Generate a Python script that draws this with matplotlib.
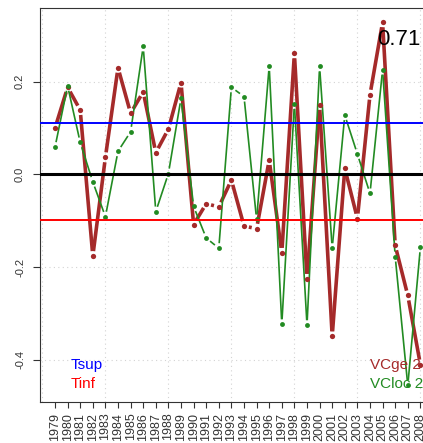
import numpy as np
import matplotlib
matplotlib.use("Agg")
import matplotlib.pyplot as plt

plt.rcParams['font.family'] = ['Liberation Sans', 'DejaVu Sans']

years = list(range(1979, 2009))
vcge = [0.100, 0.188, 0.139, -0.176, 0.037, 0.230, 0.132, 0.178, 0.047, 0.098,
        0.198, -0.108, -0.063, -0.070, -0.012, -0.111, -0.117, 0.031, -0.169, 0.261,
        -0.225, 0.150, -0.349, 0.013, -0.095, 0.172, 0.328, -0.153, -0.261, -0.410]
vcloc = [0.059, 0.191, 0.069, -0.016, -0.091, 0.050, 0.092, 0.276, -0.080, 0.002,
         0.164, -0.069, -0.137, -0.159, 0.188, 0.168, -0.097, 0.234, -0.323, 0.152,
         -0.325, 0.233, -0.159, 0.128, 0.044, -0.041, 0.226, -0.177, -0.455, -0.157]
tsup = 0.111
tinf = -0.098
corr_label = "0.71"

BROWN = "#A52A2A"
GREEN = "#228B22"

fig = plt.figure(figsize=(4.23, 4.43), dpi=100)
ax = fig.add_axes([40.4 / 423, 41.3 / 443, 394.6 / 423, 394.2 / 443])
ax.set_xlim(-0.16, 31.16)
ax.set_ylim(-0.49, 0.36)

idx = np.arange(1, len(years) + 1)


# R-style type="b": points plus line segments that stop short of each point
def b_line(x, y, color, lw, ms, gap=5.0):
    tr = ax.transData
    pts = tr.transform(np.column_stack([x, y]))
    inv = tr.inverted()
    for p0, p1 in zip(pts[:-1], pts[1:]):
        d = p1 - p0
        L = np.hypot(d[0], d[1])
        if L <= 2 * gap:
            continue
        u = d / L
        seg = inv.transform(np.array([p0 + u * gap, p1 - u * gap]))
        ax.plot(seg[:, 0], seg[:, 1], color=color, lw=lw, solid_capstyle='butt',
                zorder=2)
    ax.plot(x, y, 'o', color=color, ms=ms, mec='none', zorder=2.5)


# grid
for gx in range(0, 31, 5):
    ax.axvline(gx, color='lightgray', lw=0.8, ls=(0, (1, 3)), zorder=0.5)
for gy in [-0.4, -0.2, 0.0, 0.2]:
    ax.axhline(gy, color='lightgray', lw=0.8, ls=(0, (1, 3)), zorder=0.5)

b_line(idx, vcge, BROWN, 2.6, 3.8)
b_line(idx, vcloc, GREEN, 1.2, 3.5)

ax.axhline(0, color='black', lw=2.2, zorder=3)
ax.axhline(tsup, color='blue', lw=1.4, zorder=3)
ax.axhline(tinf, color='red', lw=1.4, zorder=3)

ax.text(28.3, 0.29, corr_label, fontsize=16, ha='center', va='center', color='black')

ax.text(2.2, -0.42, "Tsup", color='blue', fontsize=11, va='baseline')
ax.text(2.2, -0.461, "Tinf", color='red', fontsize=11, va='baseline')
ax.text(26.0, -0.42, "VCge 2", color=BROWN, fontsize=11, va='baseline')
ax.text(26.0, -0.461, "VCloc 2", color=GREEN, fontsize=11, va='baseline')

ax.set_xticks(idx)
ax.set_xticklabels([str(y) for y in years], rotation=90, fontsize=9, va='top')
yt = [-0.4, -0.2, 0.0, 0.2]
ax.set_yticks(yt)
ax.set_yticklabels(["-0.4", "-0.2", "0.0", "0.2"], rotation=90, fontsize=8, va='center')

ax.tick_params(axis='x', length=4.3, width=0.8, pad=3.6, colors='#333333')
ax.tick_params(axis='y', length=5, width=0.8, pad=6, colors='#333333')
for s in ax.spines.values():
    s.set_color('#333333')
    s.set_linewidth(0.8)

fig.savefig("out.png", dpi=100)
